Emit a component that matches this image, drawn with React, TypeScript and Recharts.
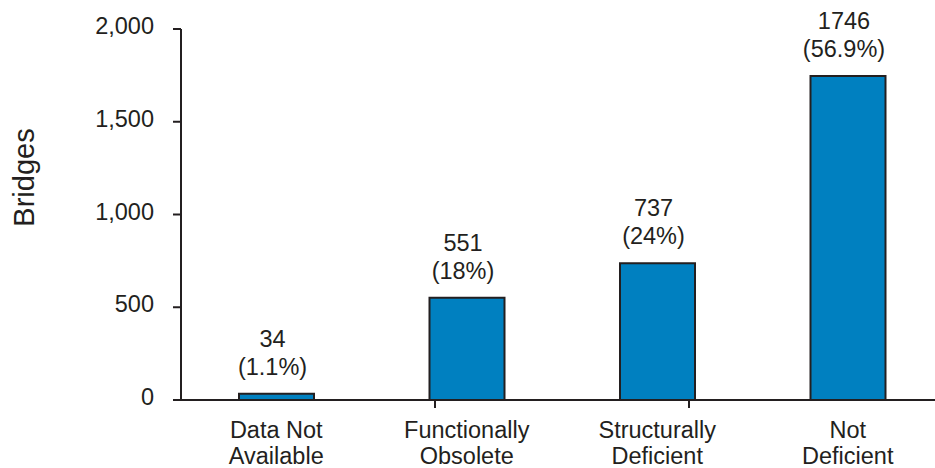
import { BarChart, Bar, XAxis, YAxis, LabelList } from 'recharts';

// bridge condition counts, one bar per category
const categoryLines = [
	['Data Not', 'Available'],
	['Functionally', 'Obsolete'],
	['Structurally', 'Deficient'],
	['Not', 'Deficient'],
];
const bridges = [34, 551, 737, 1746];
const shares = [1.1, 18, 24, 56.9];
const yTicks = [0, 500, 1000, 1500, 2000];
// tick marks sit on the boundaries between categories
const edgeTicks = [1, 2, 3, 4];

const data = categoryLines.map((lines, i) => ({
	name: lines.join(' '),
	lines,
	bridges: bridges[i],
	share: shares[i],
}));

const ink = '#231f20';
const font = '"Liberation Sans", Arial, sans-serif';
const textSize = 23.5;

const YTick = (props: any) => {
	const { x, y, payload } = props;
	return (
		<text x={x} y={y} dy={5} textAnchor='end' fill={ink} fontSize={textSize} fontFamily={font}>
			{Number(payload.value).toLocaleString('en-US')}
		</text>
	);
};

const CategoryTick = (props: any) => {
	const { x, y, index } = props;
	const lines = data[index].lines;
	return (
		<text x={x} y={y} textAnchor='middle' fill={ink} fontSize={textSize} fontFamily={font}>
			<tspan x={x} dy={37}>{lines[0]}</tspan>
			<tspan x={x} dy={26}>{lines[1]}</tspan>
		</text>
	);
};

const BarLabel = (props: any) => {
	const { x, y, width, index } = props;
	const cx = x + width / 2 - 4;
	return (
		<text x={cx} y={y} textAnchor='middle' fill={ink} fontSize={textSize} fontFamily={font}>
			<tspan x={cx} dy={-47}>{bridges[index]}</tspan>
			<tspan x={cx} dy={28}>({shares[index]}%)</tspan>
		</text>
	);
};

const AxisTitle = (props: any) => {
	const { viewBox } = props;
	const cx = 24;
	const cy = viewBox.y + viewBox.height / 2 - 37;
	return (
		<text
			x={cx}
			y={cy}
			transform={`rotate(-90, ${cx}, ${cy})`}
			textAnchor='middle'
			dominantBaseline='central'
			fill={ink}
			fontSize={29}
			fontFamily={font}>
			Bridges
		</text>
	);
};

export default function App() {
	return (
		<div style={{ position: 'absolute', left: 0, top: 0, width: 935, height: 468, overflow: 'hidden', background: '#fff' }}>
			<BarChart width={943} height={468} data={data} margin={{ top: 29, right: 0, left: 0, bottom: 8 }}>
				<XAxis
					type='number'
					domain={[0, 4]}
					ticks={edgeTicks}
					allowDataOverflow
					height={1}
					tickSize={8}
					tickFormatter={() => ''}
					axisLine={{ stroke: ink, strokeWidth: 2 }}
					tickLine={{ stroke: ink, strokeWidth: 2 }}
				/>
				<XAxis
					xAxisId='cat'
					dataKey='name'
					height={59}
					interval={0}
					axisLine={false}
					tickLine={false}
					tickSize={0}
					tickMargin={0}
					tick={CategoryTick}
				/>
				<YAxis
					domain={[0, 2000]}
					ticks={yTicks}
					width={181}
					tickSize={8}
					tickMargin={19}
					tick={YTick}
					axisLine={{ stroke: ink, strokeWidth: 2 }}
					tickLine={{ stroke: ink, strokeWidth: 2 }}
					label={<AxisTitle />}
				/>
				<Bar
					xAxisId='cat'
					dataKey='bridges'
					fill='#0080c0'
					stroke={ink}
					strokeWidth={2}
					barSize={75}
					isAnimationActive={false}>
					<LabelList dataKey='bridges' content={BarLabel} />
				</Bar>
			</BarChart>
		</div>
	);
}
